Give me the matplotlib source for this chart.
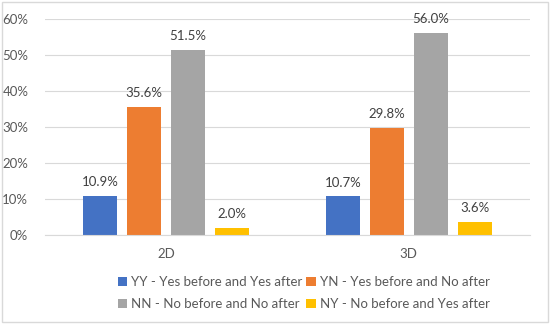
import numpy as np
import matplotlib.pyplot as plt
from matplotlib.patches import Rectangle

categories = ["2D", "3D"]
series = [
    "YY - Yes before and Yes after",
    "YN - Yes before and No after",
    "NN - No before and No after",
    "NY - No before and Yes after",
]
values = [
    [10.9, 10.7],
    [35.6, 29.8],
    [51.5, 56.0],
    [2.0, 3.6],
]
colors = ["#4472c4", "#ed7d31", "#a5a5a5", "#ffc000"]

plt.rcParams["font.family"] = ["Lato", "DejaVu Sans"]
text_col = "#595959"

fig = plt.figure(figsize=(5.5, 3.24), dpi=100)
ax = fig.add_axes([45 / 550, 1 - 235 / 324, 485 / 550, 216 / 324])

x = np.arange(len(categories))
step = 0.181
width = 0.14
handles = []
for i, (name, vals) in enumerate(zip(series, values)):
    pos = x + (i - 1.5) * step
    bars = ax.bar(pos, vals, width, color=colors[i], label=name, zorder=2)
    handles.append(bars)
    for b, v in zip(bars, vals):
        ax.text(b.get_x() + b.get_width() / 2, v + 2.2, f"{v:.1f}%",
                ha="center", va="bottom", fontsize=9.5, color="#404040")

ax.set_xlim(-0.5, 1.5)
ax.set_ylim(0, 60)
ax.set_yticks(range(0, 61, 10))
ax.set_yticklabels([f"{t}%" for t in range(0, 61, 10)])
ax.set_xticks(x)
ax.set_xticklabels(categories)
ax.grid(axis="y", color="#d9d9d9", linewidth=0.8, zorder=0)
for s in ["top", "right", "left"]:
    ax.spines[s].set_visible(False)
ax.spines["bottom"].set_color("#d9d9d9")
ax.tick_params(length=0, colors=text_col, labelsize=9.5)
ax.tick_params(axis="x", pad=9)
ax.tick_params(axis="y", pad=12)

# legend reads row-wise: YY YN / NN NY
order = [0, 2, 1, 3]
fig.legend([handles[k] for k in order], [series[k] for k in order],
           loc="upper left", bbox_to_anchor=(118 / 550, 1 - 276 / 324), ncol=2,
           frameon=False, fontsize=9.5, handlelength=0.7, handleheight=0.7,
           handletextpad=0.3, columnspacing=0.3, labelspacing=0.75,
           labelcolor=text_col, borderaxespad=0, borderpad=0)

fig.patches.append(Rectangle((0.004, 0.006), 0.992, 0.988, transform=fig.transFigure,
                             fill=False, edgecolor="#d9d9d9", linewidth=1))

fig.savefig("out.png", dpi=100)
